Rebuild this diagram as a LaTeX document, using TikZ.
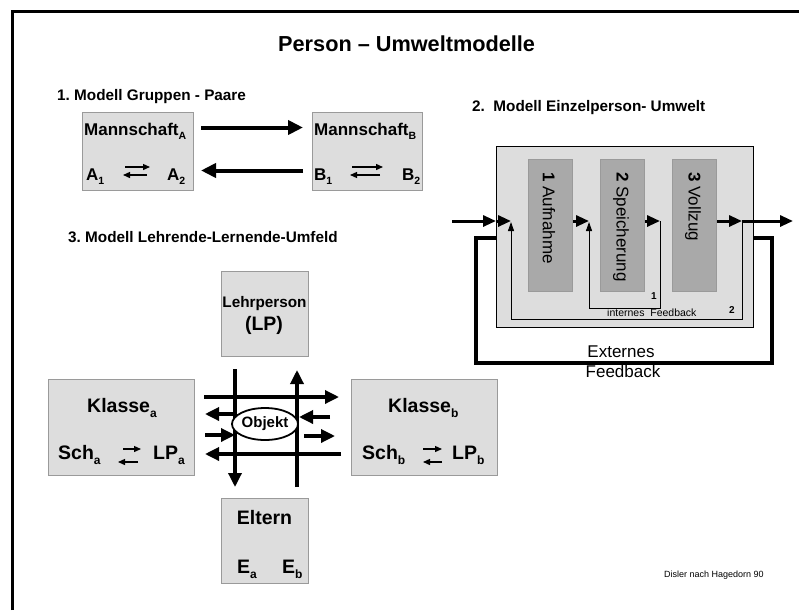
\documentclass[tikz,border=0pt]{standalone}
\usepackage{fontspec}
\setmainfont{Liberation Sans}
\usetikzlibrary{arrows.meta,shapes.geometric}
\newcommand{\fsz}[1]{\fontsize{#1}{#1}\selectfont}
\newcommand{\lowsub}[2]{\raisebox{-0.28em}{\fsz{#1}#2}}
\definecolor{boxfill}{HTML}{DDDDDD}
\definecolor{boxline}{HTML}{9A9A9A}
\definecolor{stagefill}{HTML}{A9A9A9}
\frenchspacing

\begin{document}
\begin{tikzpicture}[x=1pt,y=-1pt,
  every node/.style={inner sep=0pt},
  greybox/.style={draw=boxline, fill=boxfill, line width=1pt, anchor=north west},
  stagebox/.style={draw=boxline, fill=stagefill, line width=0.8pt,
    minimum width=44pt, minimum height=132pt, anchor=north west},
  stagelabel/.style={rotate=-90, anchor=west, font=\fsz{17}},
  txt/.style={anchor=base west, font=\bfseries\fsz{17}},
  bigtxt/.style={anchor=base west, font=\bfseries\fsz{19.5}},
  heading/.style={anchor=base west, font=\bfseries\fsz{15.3}},
  heavy/.style={line width=4pt, -{Triangle[length=15pt,width=14pt]}},
  medium/.style={line width=3.3pt, -{Triangle[length=14pt,width=13pt]}},
  flow/.style={line width=3pt, -{Triangle[length=13pt,width=11pt]}},
  thinarrow/.style={line width=0.9pt, -{Triangle[length=9pt,width=6pt]}},
  swap/.style={line width=1.3pt, -{Triangle[length=7pt,width=6pt]}},
]
\useasboundingbox (0,0) rectangle (799,610);

% page frame
\draw[line width=3pt] (12,610) -- (12,12) -- (799,12);

% main title
\node[anchor=base west, font=\bfseries\fsz{21.7}] (title) at (278,52) {Person – Umweltmodelle};

% ---------- 1. group / pair model ----------
\node[heading] (h1) at (57,100) {1. Modell Gruppen - Paare};
\node[greybox, minimum width=111pt, minimum height=78pt] (boxA) at (82,112) {};
\node[greybox, minimum width=110pt, minimum height=78pt] (boxB) at (312,112) {};
\node[txt] (mA) at (84,135) {Mannschaft\lowsub{10.5}{A}};
\node[txt] (mB) at (314,135) {Mannschaft\lowsub{10.5}{B}};
\node[txt] (a1) at (86,180) {A\lowsub{10.5}{1}};
\node[txt] (a2) at (167,180) {A\lowsub{10.5}{2}};
\node[txt] (b1) at (314,180) {B\lowsub{10.5}{1}};
\node[txt] (b2) at (402,180) {B\lowsub{10.5}{2}};
\draw[heavy, shorten <=7pt, shorten >=9pt] ([yshift=24pt]boxA.east) -- ([yshift=24pt]boxB.west);
\draw[heavy, shorten <=9pt, shorten >=7pt] ([yshift=-19pt]boxB.west) -- ([yshift=-19pt]boxA.east);
\coordinate (aR0) at (125,167); \coordinate (aR1) at (150,167);
\coordinate (aL0) at (147,175); \coordinate (aL1) at (123,175);
\draw[swap] (aR0) -- (aR1);
\draw[swap] (aL0) -- (aL1);
\coordinate (bR0) at (352,167); \coordinate (bR1) at (383,167);
\coordinate (bL0) at (380,175); \coordinate (bL1) at (350,175);
\draw[swap] (bR0) -- (bR1);
\draw[swap] (bL0) -- (bL1);

% ---------- 2. individual / environment model ----------
\node[heading] (h2) at (472,111) {2.\ \ Modell Einzelperson- Umwelt};
\node[draw=black, fill=boxfill, line width=1.2pt, minimum width=257pt,
      minimum height=181pt, anchor=north west] (person) at (496,146) {};
\node[stagebox] (s1) at (528,159) {};
\node[stagebox] (s2) at (600,159) {};
\node[stagebox] (s3) at (672,159) {};
\node[stagelabel] (l1) at (549,172) {\textbf{1} Aufnahme};
\node[stagelabel] (l2) at (621,172) {\textbf{2} Speicherung};
\node[stagelabel] (l3) at (693,172) {\textbf{3} Vollzug};

% flow through the stages
\coordinate (inS) at (452,221);
\coordinate (fb2top) at (511,221);
\coordinate (fb1top) at (589,221);
\coordinate (fb1start) at (660,221);
\coordinate (fb2start) at (742,221);
\coordinate (outE) at (793,221);
\draw[flow] (inS) -- (person.west |- inS);
\draw[flow] (person.west |- inS) -- (fb2top);
\draw[flow] (s1.east |- inS) -- (fb1top);
\draw[flow] (s2.east |- inS) -- (fb1start);
\draw[flow] (s3.east |- inS) -- (fb2start);
\draw[flow] (fb2start) -- (outE);

% internal feedback loops
\draw[thinarrow] (fb1start) -- (660,308) -- (589,308) -- ([yshift=-1pt]fb1top);
\draw[thinarrow] (fb2start) -- (742,319) -- (511,319) -- ([yshift=-1pt]fb2top);
\node[anchor=base, font=\bfseries\fsz{10}] (n1) at (654,299) {1};
\node[anchor=base, font=\bfseries\fsz{10}] (n2) at (732,313) {2};
\node[anchor=base west, font=\fsz{10.5}] (intfb) at (607,316) {internes\ \ Feedback};

% external feedback loop
\draw[line width=3.3pt] (person.east |- 0,238) -- (772,238) -- (772,363)
  -- (476,363) -- (476,238) -- (person.west |- 0,238);
\node[anchor=base, font=\fsz{17}] (ext1) at (621,357) {Externes};
\node[anchor=base, font=\fsz{17}] (ext2) at (623,377) {Feedback};

% ---------- 3. teacher / learner / surroundings model ----------
\node[heading] (h3) at (68,242) {3. Modell Lehrende-Lernende-Umfeld};
\node[greybox, minimum width=87pt, minimum height=85pt] (lp) at (221,271) {};
\node[greybox, minimum width=146pt, minimum height=96pt] (kla) at (48,379) {};
\node[greybox, minimum width=146pt, minimum height=96pt] (klb) at (351,379) {};
\node[greybox, minimum width=87pt, minimum height=85pt] (elt) at (221,498) {};

\node[anchor=base, font=\bfseries\fsz{15.3}] (lpt1) at (264.5,307) {Lehrperson};
\node[anchor=base, font=\bfseries\fsz{19.5}] (lpt2) at (264,330) {(LP)};

\node[bigtxt] (kat) at (87,412) {Klasse\lowsub{12}{a}};
\node[bigtxt] (scha) at (58,459) {Sch\lowsub{12}{a}};
\node[bigtxt] (lpa) at (153,459) {LP\lowsub{12}{a}};
\node[bigtxt] (kbt) at (388,412) {Klasse\lowsub{12}{b}};
\node[bigtxt] (schb) at (362,459) {Sch\lowsub{12}{b}};
\node[bigtxt] (lpb) at (452,459) {LP\lowsub{12}{b}};

\node[anchor=base, font=\bfseries\fsz{19.5}] (elt1) at (264.5,524) {Eltern};
\node[bigtxt] (ea) at (237,573) {E\lowsub{12}{a}};
\node[bigtxt] (eb) at (282,573) {E\lowsub{12}{b}};

\coordinate (cRa0) at (123,449); \coordinate (cRa1) at (141,449);
\coordinate (cLa0) at (138,462); \coordinate (cLa1) at (118,462);
\draw[swap] (cRa0) -- (cRa1);
\draw[swap] (cLa0) -- (cLa1);
\coordinate (cRb0) at (423,449); \coordinate (cRb1) at (442,449);
\coordinate (cLb0) at (442,462); \coordinate (cLb1) at (423,462);
\draw[swap] (cRb0) -- (cRb1);
\draw[swap] (cLb0) -- (cLb1);

% exchange grid around the object
\coordinate (vL0) at (235,369); \coordinate (vL1) at (235,487);
\coordinate (vR0) at (297,487); \coordinate (vR1) at (297,370);
\coordinate (hT0) at (204,397); \coordinate (hT1) at (339,397);
\coordinate (hB0) at (341,454); \coordinate (hB1) at (205,454);
\draw[medium] (vL0) -- (vL1);
\draw[medium] (vR0) -- (vR1);
\draw[medium] (hT0) -- (hT1);
\draw[medium] (hB0) -- (hB1);
\coordinate (sLu0) at (235,414); \coordinate (sLu1) at (205,414);
\coordinate (sLd0) at (205,435); \coordinate (sLd1) at (235,435);
\coordinate (sRu0) at (330,417); \coordinate (sRu1) at (299,417);
\coordinate (sRd0) at (304,436); \coordinate (sRd1) at (335,436);
\draw[medium] (sLu0) -- (sLu1);
\draw[medium] (sLd0) -- (sLd1);
\draw[medium] (sRu0) -- (sRu1);
\draw[medium] (sRd0) -- (sRd1);
\node[ellipse, draw, fill=white, line width=1.8pt, minimum width=58pt,
      minimum height=32pt, font=\bfseries\fsz{15}] (obj) at (265,424) {Objekt};

% source note
\node[anchor=base west, font=\fsz{9}] (credit) at (664,577) {Disler nach Hagedorn 90};
\end{tikzpicture}
\end{document}
